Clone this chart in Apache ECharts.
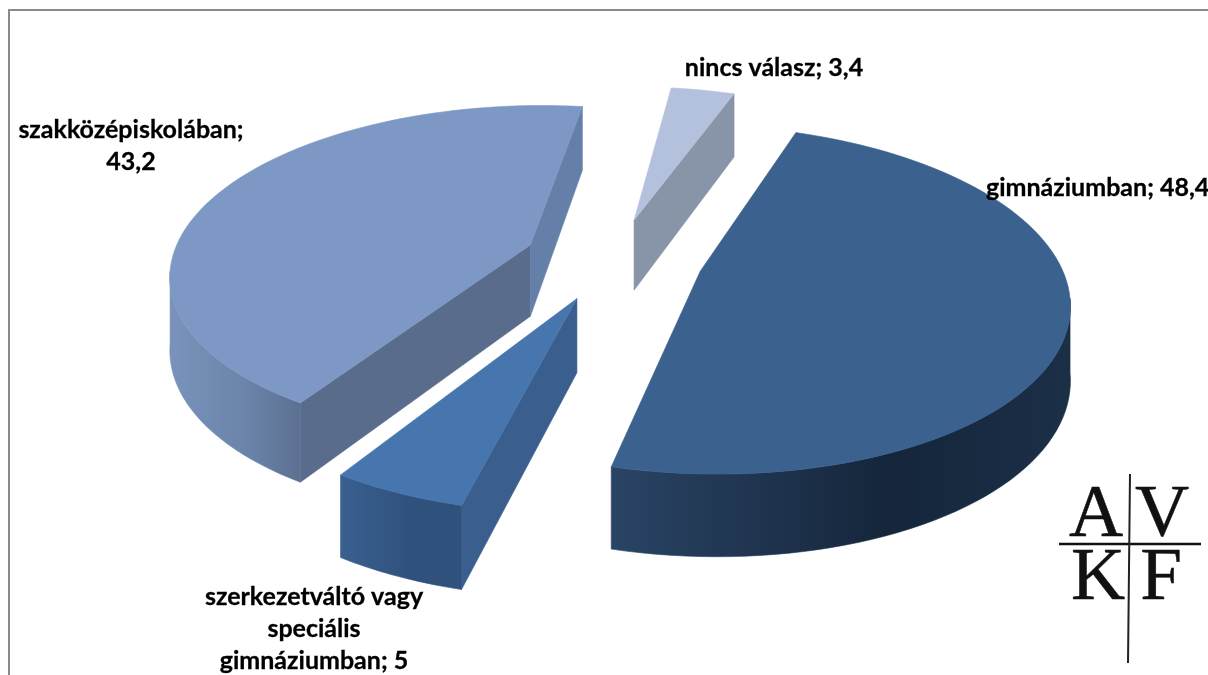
<!DOCTYPE html>
<html><head><meta charset="utf-8">
<style>html,body{margin:0;padding:0;background:#fff;overflow:hidden}#c{width:1208px;height:675px}</style>
<script src="https://cdn.jsdelivr.net/npm/echarts@6/dist/echarts.min.js"></script>
</head><body><div id="c"></div>
<script>
const categories = ['gimnáziumban', 'szerkezetváltó vagy speciális gimnáziumban', 'szakközépiskolában', 'nincs válasz'];
const values = [48.4, 5, 43.2, 3.4];
const labelLines = [['gimnáziumban; 48,4'], ['szerkezetváltó vagy', 'speciális', 'gimnáziumban; 5'], ['szakközépiskolában;', '43,2'], ['nincs válasz; 3,4']];

// styling and layout
const topColors = ['#3b628f', '#4776ae', '#7d98c5', '#b3c1dd'];
const radialWall = ['#2a4466', '#3a5f8f', '#5a6c8b', '#8894a8'];
const radialWallEnd = ['#2a4466', '#3a5f8f', '#6580a8', '#8894a8'];
const outerWall = [['#2a4465', '#15263b', '#1b2f47'], ['#3a6090', '#2f517c', '#2f517c'], ['#7a93bc', '#6a83a9', '#5c7091'], ['#8894a8', '#8894a8', '#8894a8']];
const labelAnchors = [[986, 172, 'left'], [314, 581, 'center'], [131, 114, 'center'], [774, 52, 'center']];
const drawOrder = [3, 2, 0, 1];
const firstAngle = 19.9, explode = 0.25;
const P = {cx: 613.5, cy: 259, rx: 358.5, ry: 166, k: 0.16, depth: 72, kDepth: 0.12};

const total = values.reduce((a, b) => a + b, 0);
const rad = d => d * Math.PI / 180;
function project(U, V, drop) {
  const W = 1 - P.k * V;
  const x = P.cx + P.rx * U / W, y = P.cy + P.ry * V / W;
  return [x, y + (drop ? P.depth / (1 - P.kDepth * V) : 0)];
}
function rim(a, eu, ev, drop) { return project(eu + Math.sin(rad(a)), ev - Math.cos(rad(a)), drop); }
function arcPts(a0, a1, eu, ev, drop) {
  const n = Math.max(2, Math.ceil(Math.abs(a1 - a0) / 2)), pts = [];
  for (let i = 0; i <= n; i++) pts.push(rim(a0 + (a1 - a0) * i / n, eu, ev, drop));
  return pts;
}
function renderItem(params, api) {
  const i = params.dataIndex, order = drawOrder.indexOf(i) * 10 + 10;
  const before = values.slice(0, i).reduce((a, b) => a + b, 0);
  const a0 = firstAngle + before / total * 360, a1 = a0 + api.value(0) / total * 360, mid = (a0 + a1) / 2;
  const eu = explode * Math.sin(rad(mid)), ev = -explode * Math.cos(rad(mid));
  const A = project(eu, ev, false), Ad = project(eu, ev, true), M = rim(mid, eu, ev, false);
  const children = [];
  const poly = (points, fill, z) => children.push({type: 'polygon', shape: {points}, z2: order + z, style: {fill, stroke: fill, lineWidth: 0.6}, silent: true});
  // radial walls
  [[a0, radialWall[i]], [a1, radialWallEnd[i]]].forEach(([a, col]) => {
    const p = rim(a, eu, ev, false), pd = rim(a, eu, ev, true);
    const ex = p[0] - A[0], ey = p[1] - A[1];
    const s1 = ex, s2 = ex * (M[1] - A[1]) - ey * (M[0] - A[0]);
    if (s1 * s2 < 0) poly([A, p, pd, Ad], col, 1);
  });
  // outer wall (front part of the rim only)
  const v0 = Math.max(a0, 99), v1 = Math.min(a1, 261);
  if (v1 > v0) {
    const top = arcPts(v0, v1, eu, ev, false), bot = arcPts(v0, v1, eu, ev, true).reverse();
    const c = outerWall[i];
    poly(top.concat(bot), {type: 'linear', x: 0, y: 0, x2: 1, y2: 0, colorStops: [{offset: 0, color: c[0]}, {offset: 0.6, color: c[1]}, {offset: 1, color: c[2]}]}, 2);
  }
  // top face
  poly([A].concat(arcPts(a0, a1, eu, ev, false)), topColors[i], 3);
  return {type: 'group', children};
}
const chart = echarts.init(document.getElementById('c'), null, {renderer: 'canvas'});
const font = '700 25px Lato, Carlito, sans-serif';
const labelGraphics = labelLines.map((lines, i) => ({
  type: 'text', z: 20, x: labelAnchors[i][0], y: labelAnchors[i][1],
  style: {text: lines.join('\n'), font, fill: '#000', stroke: '#000', lineWidth: 0.3, align: labelAnchors[i][2], verticalAlign: 'top', lineHeight: 32}
}));
const logo = [['A', 1096, 0], ['V', 1162, 0], ['K', 1098, 1], ['F', 1161, 1]].map(([t, x, r]) => ({
  type: 'text', z: 20, x, y: r ? 617 : 554,
  style: {text: t, font: '400 75px "Liberation Serif", serif', fill: '#111', stroke: '#111', lineWidth: 0.5, align: 'center', verticalAlign: 'bottom'}
}));
chart.setOption({
  animation: false,
  backgroundColor: '#fff',
  graphic: [
    {type: 'rect', z: 1, shape: {x: 9, y: 10, width: 1300, height: 800}, style: {fill: 'none', stroke: '#8a8a8a', lineWidth: 2}},
    {type: 'line', z: 20, shape: {x1: 1059, y1: 544, x2: 1201, y2: 544}, style: {stroke: '#111', lineWidth: 2.5}},
    {type: 'line', z: 20, shape: {x1: 1130, y1: 474, x2: 1128, y2: 663}, style: {stroke: '#222', lineWidth: 2}},
    ...logo, ...labelGraphics
  ],
  series: [{
    type: 'custom', coordinateSystem: 'none', renderItem, clip: false,
    data: values.map((v, i) => ({name: categories[i], value: [v]})),
    encode: {value: 0}
  }]
});
</script></body></html>
